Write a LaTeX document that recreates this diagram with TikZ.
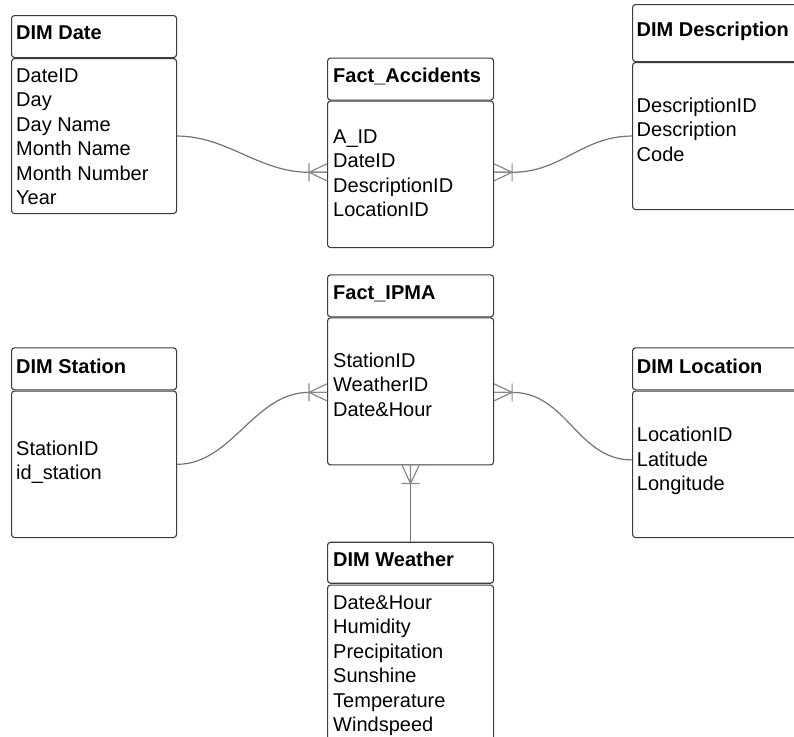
\documentclass[tikz,border=0pt]{standalone}
\usepackage{fontspec}
\setmainfont{Liberation Sans}
\usetikzlibrary{calc}
\definecolor{boxline}{HTML}{3C3C3C}
\definecolor{connc}{HTML}{6E7580}
\definecolor{footc}{HTML}{858B93}
\tikzset{
  tbox/.style={draw=boxline, line width=1.1pt, rounded corners=3pt, fill=white, inner sep=0pt, anchor=north west},
  ttitle/.style={font=\fontsize{20}{24}\selectfont\bfseries, inner sep=0pt, anchor=base west, text=black},
  tfield/.style={font=\fontsize{20}{24}\selectfont, inner sep=0pt, anchor=base west, text=black},
  connline/.style={draw=connc, line width=1.2pt},
  crowline/.style={draw=footc, line width=1.2pt},
}
\newcommand\crowfoot[2]{%
  \begin{scope}[shift={(#1)}, rotate=#2]
    \draw[crowline] (0,-8.5) -- (18,0) -- (0,8.5) (0,0) -- (18,0) (18,-9) -- (18,9);
  \end{scope}}
\begin{document}
\begin{tikzpicture}[x=1pt,y=-1pt]
\useasboundingbox (0,0) rectangle (794,736);
\clip (0,0) rectangle (794,736);
\fill[white] (0,0) rectangle (794,736);

% DIM Date
\node[tbox, minimum width=165pt, minimum height=42pt] (date-h) at (11,15) {};
\node[tbox, minimum width=165pt, minimum height=155pt] (date-b) at (11,58) {};
\node[ttitle] (date-t) at (16,39.5) {DIM Date};
\foreach \t [count=\i from 0] in {DateID,Day,Day Name,Month Name,Month Number,Year}
  \node[tfield] (date-f\i) at (16,{82+24.5*\i}) {\t};

% Fact_Accidents
\node[tbox, minimum width=166pt, minimum height=42pt] (acc-h) at (327,57.5) {};
\node[tbox, minimum width=166pt, minimum height=146.5pt] (acc-b) at (327,100.5) {};
\node[ttitle] (acc-t) at (333,82.3) {Fact\_Accidents};
\foreach \t [count=\i from 0] in {A\_ID,DateID,DescriptionID,LocationID}
  \node[tfield] (acc-f\i) at (333,{143+24.5*\i}) {\t};

% DIM Description
\node[tbox, minimum width=166pt, minimum height=57pt] (desc-h) at (632,4) {};
\node[tbox, minimum width=166pt, minimum height=147pt] (desc-b) at (632,62) {};
\node[ttitle] (desc-t) at (636.5,36) {DIM Description};
\foreach \t [count=\i from 0] in {DescriptionID,Description,Code}
  \node[tfield] (desc-f\i) at (636.5,{112.3+24.5*\i}) {\t};

% Fact_IPMA
\node[tbox, minimum width=166pt, minimum height=42pt] (ipma-h) at (327,274.3) {};
\node[tbox, minimum width=166pt, minimum height=147pt] (ipma-b) at (327,317.3) {};
\node[ttitle] (ipma-t) at (333,299.3) {Fact\_IPMA};
\foreach \t [count=\i from 0] in {StationID,WeatherID,Date\&Hour}
  \node[tfield] (ipma-f\i) at (333,{367.3+24.5*\i}) {\t};

% DIM Station
\node[tbox, minimum width=165pt, minimum height=42pt] (station-h) at (11,347.3) {};
\node[tbox, minimum width=165pt, minimum height=146.5pt] (station-b) at (11,390.5) {};
\node[ttitle] (station-t) at (16,373.3) {DIM Station};
\foreach \t [count=\i from 0] in {StationID,id\_station}
  \node[tfield] (station-f\i) at (16,{455+24.5*\i}) {\t};

% DIM Location
\node[tbox, minimum width=166pt, minimum height=42pt] (loc-h) at (632,347.3) {};
\node[tbox, minimum width=166pt, minimum height=146.5pt] (loc-b) at (632,390.5) {};
\node[ttitle] (loc-t) at (636.7,373.3) {DIM Location};
\foreach \t [count=\i from 0] in {LocationID,Latitude,Longitude}
  \node[tfield] (loc-f\i) at (636.7,{441.7+24.5*\i}) {\t};

% DIM Weather
\node[tbox, minimum width=166pt, minimum height=41pt] (weather-h) at (327,541.7) {};
\node[tbox, minimum width=166pt, minimum height=170pt] (weather-b) at (327,584.5) {};
\node[ttitle] (weather-t) at (333,566) {DIM Weather};
\foreach \t [count=\i from 0] in {Date\&Hour,Humidity,Precipitation,Sunshine,Temperature,Windspeed}
  \node[tfield] (weather-f\i) at (333,{609+24.5*\i}) {\t};

% connector end points
\coordinate (acc-w) at ([yshift=2pt]acc-b.west);
\coordinate (acc-e) at ([yshift=2pt]acc-b.east);
\coordinate (acc-wl) at ($(acc-w)+(-18,0)$);
\coordinate (acc-er) at ($(acc-e)+(18,0)$);
\coordinate (ipma-w) at ([yshift=-1pt]ipma-b.west);
\coordinate (ipma-e) at ([yshift=-1pt]ipma-b.east);
\coordinate (ipma-wl) at ($(ipma-w)+(-18,0)$);
\coordinate (ipma-er) at ($(ipma-e)+(18,0)$);
\coordinate (loc-w) at ([yshift=4.4pt]loc-b.west);

% connectors
\draw[connline] (date-b.east) .. controls +(50,0) and +(-50,0) .. (acc-wl) -- (acc-w);
\draw[connline] (acc-e) -- (acc-er) .. controls +(50,0) and +(-50,0) .. (desc-b.west);
\draw[connline] (station-b.east) .. controls +(55,0) and +(-55,0) .. (ipma-wl) -- (ipma-w);
\draw[connline] (ipma-e) -- (ipma-er) .. controls +(55,0) and +(-55,0) .. (loc-w);
\draw[connline] (ipma-b.south) -- (weather-h.north);

% crow's feet
\crowfoot{acc-w}{180}
\crowfoot{acc-e}{0}
\crowfoot{ipma-w}{180}
\crowfoot{ipma-e}{0}
\crowfoot{ipma-b.south}{-90}
\end{tikzpicture}
\end{document}
